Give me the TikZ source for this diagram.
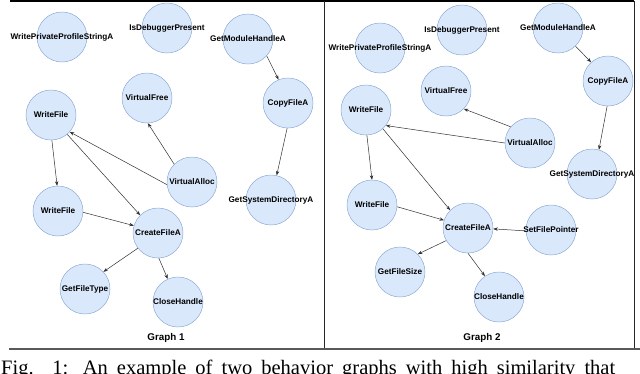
\documentclass[tikz,border=0pt]{standalone}
\usepackage{fontspec}
\setmainfont{Liberation Serif}
\newfontfamily\lbfont{Liberation Sans}
\usetikzlibrary{arrows.meta}
\definecolor{nodefill}{HTML}{DAE8FC}
\definecolor{nodeedge}{HTML}{8EAAD6}
\definecolor{edgecol}{HTML}{303030}
\tikzset{
  fn/.style={circle, draw=nodeedge, fill=nodefill, line width=0.5pt, minimum size=50pt, inner sep=0pt},
  lbl/.style={font=\lbfont\bfseries\fontsize{8.2}{9}\selectfont, text=black, inner sep=0pt},
  ttl/.style={font=\lbfont\bfseries\fontsize{9.8}{11}\selectfont, text=black, inner sep=0pt},
  arr/.style={draw=edgecol, line width=0.5pt, -{Stealth[length=4.5pt,width=3.4pt]}},
  framelinetop/.style={draw=black, line width=1.6pt},
  framelinebot/.style={draw=black!65, line width=1.2pt},
  framelinev/.style={draw=black!85, line width=0.6pt},
  capstyle/.style={font=\fontsize{20.5}{24}\selectfont, inner sep=0pt, anchor=base west},
}
\begin{document}
\begin{tikzpicture}[x=1pt,y=-1pt]
\useasboundingbox (0,0) rectangle (640,373);
% frame
\draw[framelinetop] (10,1) -- (634,1);
\draw[framelinev] (324,1) -- (324,348.5);
\draw[framelinev] (634,1) -- (634,348.5);
\draw[framelinebot] (9,349) -- (640,349);

% Graph 1
\node[fn, label={[lbl]center:WritePrivateProfileStringA}] (wp1) at (62,37) {};
\node[fn, label={[lbl]center:IsDebuggerPresent}] (id1) at (167,28) {};
\node[fn, label={[lbl]center:GetModuleHandleA}] (gm1) at (248,39) {};
\node[fn, label={[lbl]center:VirtualFree}] (vf1) at (147,98) {};
\node[fn, label={[lbl]center:CopyFileA}] (cf1) at (288,103) {};
\node[fn, label={[lbl]center:WriteFile}] (wf1a) at (51,115) {};
\node[fn, label={[lbl]center:VirtualAlloc}] (va1) at (192,182) {};
\node[fn, label={[lbl]center:GetSystemDirectoryA}] (gs1) at (271,200) {};
\node[fn, label={[lbl]center:WriteFile}] (wf1b) at (58,211) {};
\node[fn, label={[lbl]center:CreateFileA}] (cr1) at (158,233) {};
\node[fn, label={[lbl]center:GetFileType}] (gt1) at (85,289) {};
\node[fn, label={[lbl]center:CloseHandle}] (ch1) at (178,302) {};
\node[ttl] (t1) at (166,338) {Graph 1};

\draw[arr] (gm1.-42) -- (cf1.112);
\draw[arr] (cf1.-92) -- (gs1.77);
\draw[arr] (wf1a.-88) -- (wf1b.92);
\draw[arr] (va1.186) -- (wf1a.-42);
\draw[arr] (wf1a.-50) -- (cr1.135);
\draw[arr] (va1.135) -- (vf1.-88);
\draw[arr] (wf1b.-3) -- (cr1.163);
\draw[arr] (cr1.-143) -- (gt1.43);
\draw[arr] (cr1.-88) -- (ch1.114);

% Graph 2
\node[fn, label={[lbl]center:WritePrivateProfileStringA}] (wp2) at (380,48) {};
\node[fn, label={[lbl]center:IsDebuggerPresent}] (id2) at (462,30) {};
\node[fn, label={[lbl]center:GetModuleHandleA}] (gm2) at (558,28) {};
\node[fn, label={[lbl]center:CopyFileA}] (cf2) at (608,81) {};
\node[fn, label={[lbl]center:VirtualFree}] (vf2) at (446,91) {};
\node[fn, label={[lbl]center:WriteFile}] (wf2a) at (366,110) {};
\node[fn, label={[lbl]center:VirtualAlloc}] (va2) at (530,143) {};
\node[fn, label={[lbl]center:GetSystemDirectoryA}] (gs2) at (592,174) {};
\node[fn, label={[lbl]center:WriteFile}] (wf2b) at (372,205) {};
\node[fn, label={[lbl]center:CreateFileA}] (cr2) at (468,228) {};
\node[fn, label={[lbl]center:SetFilePointer}] (sp2) at (551,230) {};
\node[fn, label={[lbl]center:GetFileSize}] (gz2) at (400,272) {};
\node[fn, label={[lbl]center:CloseHandle}] (ch2) at (499,297) {};
\node[ttl] (t2) at (482,338) {Graph 2};

\draw[arr] (gm2.-46) -- (cf2.132);
\draw[arr] (cf2.-92) -- (gs2.74);
\draw[arr] (va2.140) -- (vf2.-45);
\draw[arr] (va2.180) -- (wf2a.-38);
\draw[arr] (wf2a.-88) -- (wf2b.90);
\draw[arr] (wf2a.-48) -- (cr2.135);
\draw[arr] (wf2b.-4) -- (cr2.162);
\draw[arr] (sp2.182) -- (cr2.-2);
\draw[arr] (cr2.210) -- (gz2.45);
\draw[arr] (cr2.-90) -- (ch2.124);

% caption (cut off by the page edge)
\node[capstyle] (cap) at (1,374) {\makebox[614pt][s]{Fig. 1: An example of two behavior graphs with high similarity that}};
\end{tikzpicture}
\end{document}
